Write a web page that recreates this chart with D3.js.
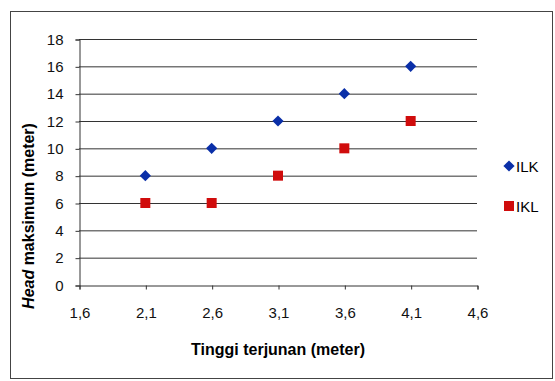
<!DOCTYPE html>
<html lang="id">
  <head>
    <meta charset="UTF-8" />
    <script src="https://d3js.org/d3.v7.min.js"></script>
    <title>Head maksimum</title>
    <style>
      body { margin: 0; background: #fff; font-family: Arial, "Liberation Sans", sans-serif; }
      .tick text { font-size: 15px; fill: #111; }
    </style>
  </head>
  <body>
    <svg width="555" height="381"></svg>
    <script>
      // data
      const tinggi = [2.1, 2.6, 3.1, 3.6, 4.1];
      const ilk = [8, 10, 12, 14, 16];
      const ikl = [6, 6, 8, 10, 12];
      const xTicks = [1.6, 2.1, 2.6, 3.1, 3.6, 4.1, 4.6];
      const yTicks = [0, 2, 4, 6, 8, 10, 12, 14, 16, 18];

      const svg = d3.select("svg");
      const plotLeft = 79, plotRight = 477, plotTop = 39, plotBottom = 285;

      // outer frame
      svg.append("rect")
        .attr("x", 10.5).attr("y", 11.5)
        .attr("width", 542).attr("height", 367)
        .attr("fill", "none").attr("stroke", "#444").attr("stroke-width", 1);

      const x = d3.scaleLinear().domain([1.6, 4.6]).range([plotLeft, plotRight]);
      const y = d3.scaleLinear().domain([0, 18]).range([plotBottom, plotTop]);

      // grid lines
      svg.append("g")
        .selectAll("line")
        .data(yTicks.filter(d => d > 0))
        .join("line")
        .attr("x1", plotLeft).attr("x2", plotRight)
        .attr("y1", d => y(d) + 0.5).attr("y2", d => y(d) + 0.5)
        .attr("stroke", "#333").attr("stroke-width", 1);

      const fmt = d => String(d).replace(".", ",");

      const yAxis = svg.append("g")
        .attr("transform", `translate(${plotLeft + 0.5},0.5)`)
        .call(d3.axisLeft(y).tickValues(yTicks).tickSize(4).tickPadding(12).tickFormat(fmt));
      yAxis.select(".domain").attr("stroke", "#333");
      yAxis.selectAll(".tick line").attr("stroke", "#333");

      const xAxis = svg.append("g")
        .attr("transform", `translate(0.5,${plotBottom + 0.5})`)
        .call(d3.axisBottom(x).tickValues(xTicks).tickSize(4).tickPadding(18).tickFormat(fmt));
      xAxis.select(".domain").attr("stroke", "#333");
      xAxis.selectAll(".tick line").attr("stroke", "#333");

      // axis titles
      svg.append("text")
        .attr("x", 278).attr("y", 355)
        .attr("text-anchor", "middle")
        .attr("font-size", 16).attr("font-weight", "bold")
        .text("Tinggi terjunan (meter)");

      const yt = svg.append("text")
        .attr("transform", "translate(34,216) rotate(-90)")
        .attr("text-anchor", "middle")
        .attr("font-size", 16).attr("font-weight", "bold");
      yt.append("tspan").attr("font-style", "italic").text("Head");
      yt.append("tspan").text(" maksimum (meter)");

      const diamond = d3.symbol().type(d3.symbolDiamond2).size(80);
      const blue = "#0a2fa8", red = "#d00c0c";

      // ILK points
      svg.append("g")
        .selectAll("path")
        .data(tinggi.map((t, i) => [t, ilk[i]]))
        .join("path")
        .attr("d", diamond)
        .attr("transform", d => `translate(${x(d[0])},${y(d[1])})`)
        .attr("fill", blue);

      // IKL points
      svg.append("g")
        .selectAll("rect")
        .data(tinggi.map((t, i) => [t, ikl[i]]))
        .join("rect")
        .attr("x", d => x(d[0]) - 5).attr("y", d => y(d[1]) - 5)
        .attr("width", 10).attr("height", 10)
        .attr("fill", red);

      // legend
      const legend = svg.append("g");
      legend.append("path")
        .attr("d", diamond)
        .attr("transform", "translate(509,166)")
        .attr("fill", blue);
      legend.append("text")
        .attr("x", 516).attr("y", 172)
        .attr("font-size", 15)
        .text("ILK");
      legend.append("rect")
        .attr("x", 504).attr("y", 201).attr("width", 10).attr("height", 10)
        .attr("fill", red);
      legend.append("text")
        .attr("x", 516).attr("y", 212)
        .attr("font-size", 15)
        .text("IKL");
    </script>
  </body>
</html>
